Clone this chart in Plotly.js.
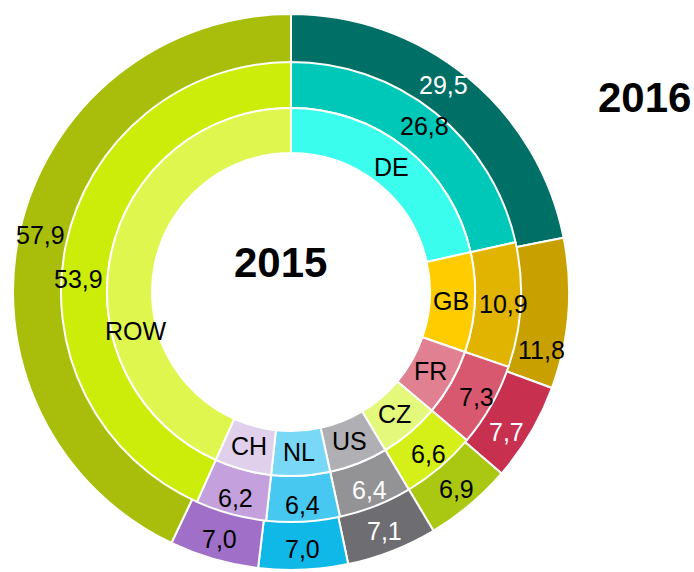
<!DOCTYPE html>
<html>
<head>
<meta charset="utf-8">
<script src="https://cdn.plot.ly/plotly-3.0.1.min.js"></script>
<style>html,body{margin:0;padding:0;background:#fff;}#chart{width:694px;height:572px;}</style>
</head>
<body>
<div id="chart"></div>
<script>
var countries = ["DE", "GB", "FR", "CZ", "US", "NL", "CH", "ROW"];
var values2015 = [26.8, 10.9, 7.3, 6.6, 6.4, 6.4, 6.2, 53.9];
var values2016 = [29.5, 11.8, 7.7, 6.9, 7.1, 7.0, 7.0, 57.9];

var innerColors  = ["#3afdee", "#ffcc00", "#e08090", "#e4f87c", "#b0b0b4", "#78d8f6", "#e0d0ec", "#dff64e"];
var middleColors = ["#00c8b8", "#e0b400", "#d85870", "#d4f018", "#939396", "#46c8f0", "#c4a0dc", "#ccec0a"];
var outerColors  = ["#006f66", "#c8a000", "#c83050", "#aac812", "#6e6e72", "#10b8e8", "#a070c8", "#a8be0a"];
var outerText  = ["#fff", "#000", "#fff", "#000", "#fff", "#000", "#000", "#000"];
var middleText = ["#000", "#000", "#000", "#000", "#fff", "#000", "#000", "#000"];

var W = 694, H = 572, cx = 291, cy = 292;
var R_OUT = 278, R_MID = 230, R_IN = 184, R_HOLE = 139;
function dom(r) {
  return { x: [(cx - r) / W, (cx + r) / W], y: [(H - cy - r) / H, (H - cy + r) / H] };
}
var font = "Liberation Sans, Arial, sans-serif";
var common = {
  type: "pie", sort: false, direction: "clockwise", rotation: 0,
  textinfo: "none", hoverinfo: "none", showlegend: false
};
var outer = Object.assign({}, common, {
  labels: countries, values: values2016, domain: dom(R_OUT), hole: (R_MID - 1) / R_OUT,
  marker: { colors: outerColors, line: { color: "#fff", width: 2 } }
});
var middle = Object.assign({}, common, {
  labels: countries, values: values2015, domain: dom(R_MID), hole: R_IN / R_MID,
  marker: { colors: middleColors, line: { color: "#fff", width: 2 } }
});
var inner = Object.assign({}, common, {
  labels: countries, values: values2015, domain: dom(R_IN), hole: R_HOLE / R_IN,
  marker: { colors: innerColors, line: { color: "#fff", width: 2 } }
});

// slice labels placed at each slice's mid-angle (derived from the data),
// with small manual label nudges (degrees) as in the original chart
function ringLabels(vals, texts, colors, r, shift) {
  var total = vals.reduce(function (a, b) { return a + b; }, 0);
  var cum = 0, out = [];
  vals.forEach(function (v, i) {
    var th = ((cum + v / 2) / total * 360 + (shift[i] || 0)) * Math.PI / 180;
    cum += v;
    var x = cx + r * Math.sin(th), y = cy - r * Math.cos(th);
    out.push({
      text: texts[i], x: x / W, y: (H - y) / H, xref: "paper", yref: "paper",
      xanchor: "center", yanchor: "middle", showarrow: false,
      font: { family: font, size: 25, color: colors[i] }
    });
  });
  return out;
}
function fmt(v) { return v.toFixed(1).replace(".", ","); }

var annotations = []
  .concat(ringLabels(values2015, countries, countries.map(function () { return "#000"; }), 160, { 7: -26 }))
  .concat(ringLabels(values2015, values2015.map(fmt), middleText, 213, { 7: -8.5 }))
  .concat(ringLabels(values2016, values2016.map(fmt), outerText, 257, { 0: -3, 1: 8.5, 2: 2.5 }));
annotations.push(
  { text: "<b>2015</b>", x: 280 / W, y: (H - 262) / H, xref: "paper", yref: "paper",
    xanchor: "center", yanchor: "middle", showarrow: false, font: { family: font, size: 42, color: "#000" } },
  { text: "<b>2016</b>", x: 644 / W, y: (H - 97) / H, xref: "paper", yref: "paper",
    xanchor: "center", yanchor: "middle", showarrow: false, font: { family: font, size: 42, color: "#000" } }
);

var layout = {
  width: W, height: H, margin: { l: 0, r: 0, t: 0, b: 0 },
  paper_bgcolor: "#fff", font: { family: font }, annotations: annotations
};
Plotly.newPlot("chart", [outer, middle, inner], layout, { displayModeBar: false, staticPlot: true });
</script>
</body>
</html>
